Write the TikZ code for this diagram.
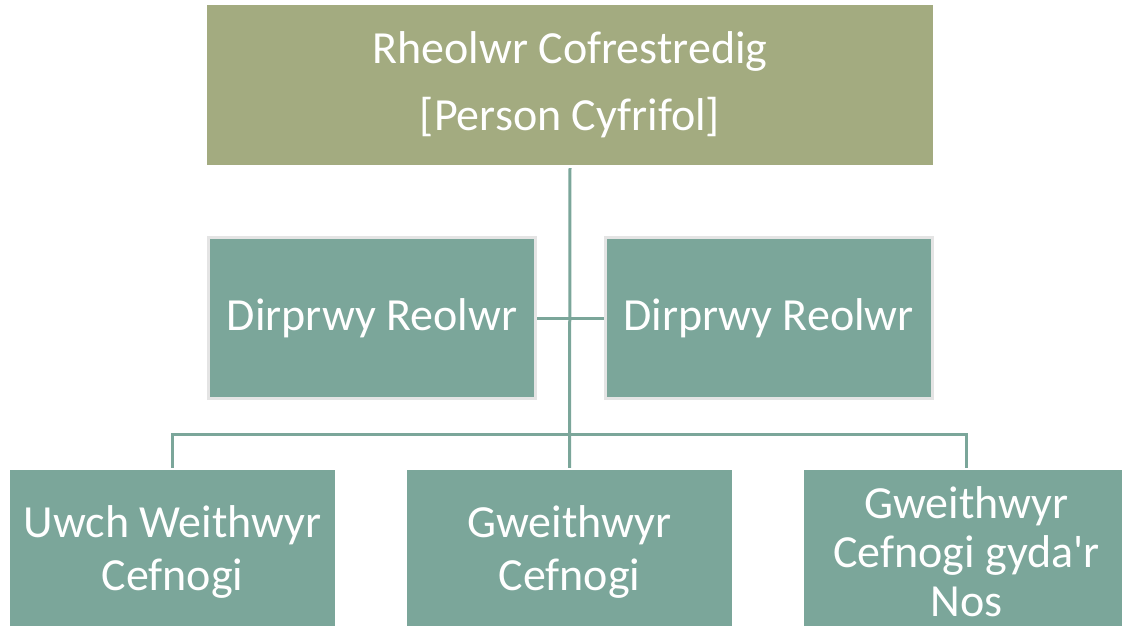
\documentclass[tikz,border=0pt]{standalone}
\usepackage{fontspec}
\setmainfont{Carlito}
\definecolor{olivebox}{RGB}{163,171,128}
\definecolor{tealbox}{RGB}{123,166,154}
\definecolor{edgegrey}{RGB}{228,228,228}
\tikzset{
  rolebox/.style={rectangle, fill=tealbox, text=white, inner sep=0pt, align=center,
    minimum width=325pt, minimum height=164pt, font=\fontsize{46}{53}\selectfont},
  deputybox/.style={rolebox, draw=edgegrey, line width=3pt,
    minimum width=327pt, minimum height=161pt},
  link/.style={draw=tealbox, line width=3pt}
}
\begin{document}
\begin{tikzpicture}[x=1pt,y=-1pt]
    \useasboundingbox (0,0) rectangle (1122,626);
    \clip (0,0) rectangle (1122,626);
    \node[rolebox, fill=olivebox, minimum width=726pt, minimum height=160pt] (reolwr) at (570,85)
        {Rheolwr Cofrestredig\\[14pt][Person Cyfrifol]};
    \node[deputybox] (dirprwyA) at (372,318) {Dirprwy Reolwr};
    \node[deputybox] (dirprwyB) at (768.5,318) {Dirprwy Reolwr};
    \node[rolebox] (uwch) at (172.5,552) {Uwch Weithwyr\\Cefnogi};
    \node[rolebox] (gweithwyr) at (569.5,552) {Gweithwyr\\Cefnogi};
    \node[rolebox, font=\fontsize{46}{49}\selectfont] (nos) at (966.5,552) {Gweithwyr\\Cefnogi gyda\textquotesingle r\\Nos};
    \coordinate (bar) at (570,434);
    \draw[link, shorten <=3pt, shorten >=2pt] (reolwr.south) -- (gweithwyr.north);
    \draw[link] (dirprwyA.east) -- (dirprwyB.west);
    \draw[link, shorten <=2pt, shorten >=2pt] (uwch.north) |- (bar) -| (nos.north);
\end{tikzpicture}
\end{document}
